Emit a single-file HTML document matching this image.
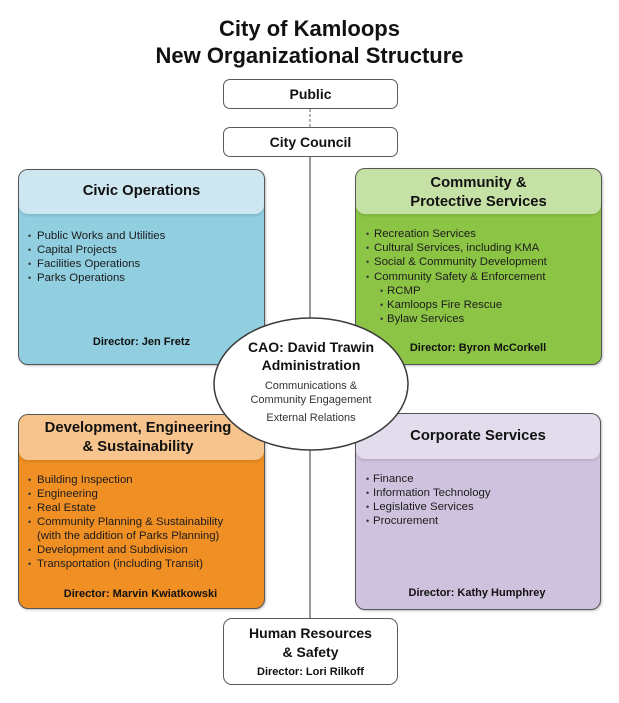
<!DOCTYPE html>
<html><head><meta charset="utf-8">
<style>
html,body{margin:0;padding:0;background:#fff;}
body{width:619px;height:703px;position:relative;overflow:hidden;font-family:"Liberation Sans",Arial,sans-serif;color:#1a1a1a;}
.a{position:absolute;}
.title{left:0;width:619px;top:15px;text-align:center;font-weight:bold;font-size:22px;line-height:27px;color:#111;}
.pill{position:absolute;box-sizing:border-box;border:1.5px solid #5a5a5a;border-radius:7px;background:#fff;display:flex;align-items:center;justify-content:center;font-weight:bold;font-size:14px;color:#111;}
.box{position:absolute;box-sizing:border-box;border:1.5px solid #555;border-radius:10px;overflow:hidden;box-shadow:1px 1px 2px rgba(0,0,0,0.25);}
.hdr{position:absolute;left:0;top:0;right:0;border-radius:0 0 9px 9px;box-shadow:0 2px 2px rgba(0,0,0,0.10);}
.ht{position:absolute;text-align:center;font-weight:bold;font-size:14.8px;line-height:19px;color:#111;white-space:nowrap;}
.it{position:absolute;font-size:11.4px;line-height:14px;color:#1c1c1c;white-space:nowrap;}
.b{position:absolute;font-size:9px;line-height:14px;color:#333;}
.dir{position:absolute;text-align:center;font-weight:bold;font-size:11px;line-height:14px;color:#111;white-space:nowrap;}
</style></head><body>

<div class="a title">City of Kamloops<br>New Organizational Structure</div>

<svg class="a" style="left:0;top:0" width="619" height="703">
  <line x1="310" y1="109" x2="310" y2="127" stroke="#666" stroke-width="1" stroke-dasharray="3,2"/>
  <line x1="310" y1="157" x2="310" y2="618" stroke="#555" stroke-width="1.2"/>
</svg>

<div class="pill" style="left:223px;top:79px;width:175px;height:30px;">Public</div>
<div class="pill" style="left:223px;top:127px;width:175px;height:30px;">City Council</div>

<!-- Civic Operations -->
<div class="box" style="left:18px;top:169px;width:247px;height:196px;background:#90cee0;">
  <div class="hdr" style="height:44px;background:#cde6f0;"></div>
</div>
<div class="ht" style="left:18px;width:247px;top:182px;">Civic Operations</div>
<div class="b" style="left:28px;top:229px;">•</div><div class="it" style="left:37px;top:229px;">Public Works and Utilities</div>
<div class="b" style="left:28px;top:243px;">•</div><div class="it" style="left:37px;top:243px;">Capital Projects</div>
<div class="b" style="left:28px;top:257px;">•</div><div class="it" style="left:37px;top:257px;">Facilities Operations</div>
<div class="b" style="left:28px;top:271px;">•</div><div class="it" style="left:37px;top:271px;">Parks Operations</div>
<div class="dir" style="left:41px;width:201px;top:335px;">Director: Jen Fretz</div>

<!-- Community & Protective -->
<div class="box" style="left:355px;top:168px;width:247px;height:197px;background:#8cc545;">
  <div class="hdr" style="height:45px;background:#c6e1a6;"></div>
</div>
<div class="ht" style="left:355px;width:247px;top:174px;">Community &amp;<br>Protective Services</div>
<div class="b" style="left:366px;top:227px;">•</div><div class="it" style="left:374px;top:227px;">Recreation Services</div>
<div class="b" style="left:366px;top:241px;">•</div><div class="it" style="left:374px;top:241px;">Cultural Services, including KMA</div>
<div class="b" style="left:366px;top:255px;">•</div><div class="it" style="left:374px;top:255px;">Social &amp; Community Development</div>
<div class="b" style="left:366px;top:270px;">•</div><div class="it" style="left:374px;top:270px;">Community Safety &amp; Enforcement</div>
<div class="b" style="left:380px;top:284px;">•</div><div class="it" style="left:387px;top:284px;">RCMP</div>
<div class="b" style="left:380px;top:298px;">•</div><div class="it" style="left:387px;top:298px;">Kamloops Fire Rescue</div>
<div class="b" style="left:380px;top:312px;">•</div><div class="it" style="left:387px;top:312px;">Bylaw Services</div>
<div class="dir" style="left:378px;width:200px;top:341px;">Director: Byron McCorkell</div>

<!-- Development -->
<div class="box" style="left:18px;top:414px;width:247px;height:195px;background:#f08f24;">
  <div class="hdr" style="height:45px;background:#f8c48e;"></div>
</div>
<div class="ht" style="left:18px;width:240px;top:419px;">Development, Engineering<br>&amp; Sustainability</div>
<div class="b" style="left:28px;top:473px;">•</div><div class="it" style="left:37px;top:473px;">Building Inspection</div>
<div class="b" style="left:28px;top:487px;">•</div><div class="it" style="left:37px;top:487px;">Engineering</div>
<div class="b" style="left:28px;top:501px;">•</div><div class="it" style="left:37px;top:501px;">Real Estate</div>
<div class="b" style="left:28px;top:515px;">•</div><div class="it" style="left:37px;top:515px;">Community Planning &amp; Sustainability</div>
<div class="it" style="left:37px;top:529px;">(with the addition of Parks Planning)</div>
<div class="b" style="left:28px;top:543px;">•</div><div class="it" style="left:37px;top:543px;">Development and Subdivision</div>
<div class="b" style="left:28px;top:557px;">•</div><div class="it" style="left:37px;top:557px;">Transportation (including Transit)</div>
<div class="dir" style="left:30px;width:221px;top:587px;">Director: Marvin Kwiatkowski</div>

<!-- Corporate -->
<div class="box" style="left:355px;top:413px;width:246px;height:197px;background:#cfc2de;">
  <div class="hdr" style="height:45px;background:#e2dcec;"></div>
</div>
<div class="ht" style="left:355px;width:246px;top:427px;">Corporate Services</div>
<div class="b" style="left:366px;top:472px;">•</div><div class="it" style="left:373px;top:472px;">Finance</div>
<div class="b" style="left:366px;top:486px;">•</div><div class="it" style="left:373px;top:486px;">Information Technology</div>
<div class="b" style="left:366px;top:500px;">•</div><div class="it" style="left:373px;top:500px;">Legislative Services</div>
<div class="b" style="left:366px;top:514px;">•</div><div class="it" style="left:373px;top:514px;">Procurement</div>
<div class="dir" style="left:377px;width:200px;top:586px;">Director: Kathy Humphrey</div>

<!-- CAO ellipse -->
<svg class="a" style="left:0;top:0" width="619" height="703">
  <ellipse cx="311" cy="384" rx="97" ry="66" fill="#fff" stroke="#3a3a3a" stroke-width="1.5"/>
</svg>
<div class="ht" style="left:211px;width:200px;top:338px;font-size:14px;line-height:18px;">CAO: David Trawin<br>Administration</div>
<div class="it" style="left:211px;width:200px;text-align:center;top:379px;font-size:11px;color:#333;">Communications &amp;<br>Community Engagement</div>
<div class="it" style="left:211px;width:200px;text-align:center;top:411px;font-size:11px;color:#333;">External Relations</div>

<!-- HR -->
<div class="pill" style="left:223px;top:618px;width:175px;height:67px;display:block;border-radius:9px;"></div>
<div class="ht" style="left:223px;width:175px;top:624px;font-size:14px;line-height:19px;">Human Resources<br>&amp; Safety</div>
<div class="dir" style="left:223px;width:175px;top:665px;">Director: Lori Rilkoff</div>

</body></html>
